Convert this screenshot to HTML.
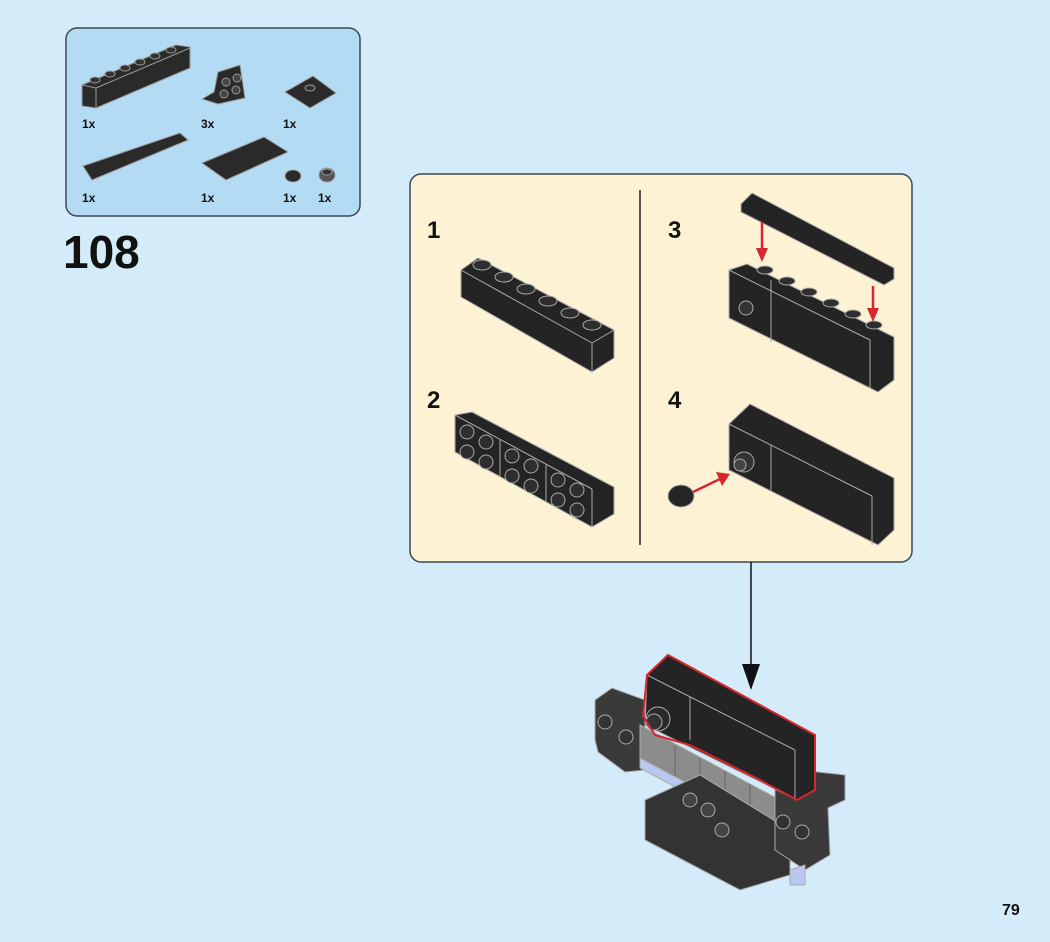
<!DOCTYPE html>
<html><head><meta charset="utf-8"><style>
html,body{margin:0;padding:0;background:#d4ebfa;}
svg{display:block;font-family:"Liberation Sans",sans-serif;}
</style></head><body>
<svg width="1050" height="942" viewBox="0 0 1050 942" xmlns="http://www.w3.org/2000/svg">
<rect width="1050" height="942" fill="#d4ebfa"/>
<rect x="66" y="28" width="294" height="188" rx="11" fill="#b4dbf4" stroke="#3b4852" stroke-width="1.5"/>
<g stroke="#9a9a9a" stroke-width="1" stroke-linejoin="round">
 <polygon points="82,85 176,45 190,47 190,68 96,108 82,106" fill="#2a2a2a"/>
 <line x1="82" y1="85" x2="96" y2="88"/><line x1="96" y1="88" x2="190" y2="48"/><line x1="96" y1="88" x2="96" y2="108"/>
 <g fill="#333"><ellipse cx="95" cy="80" rx="5" ry="3"/><ellipse cx="110" cy="74" rx="5" ry="3"/><ellipse cx="125" cy="68" rx="5" ry="3"/><ellipse cx="140" cy="62" rx="5" ry="3"/><ellipse cx="155" cy="56" rx="5" ry="3"/><ellipse cx="171" cy="50" rx="5" ry="3"/></g>
 <polygon points="214,92 218,72 240,65 245,98 218,104 202,99" fill="#2a2a2a"/>
 <g fill="#444"><circle cx="226" cy="82" r="4"/><circle cx="237" cy="78" r="4"/><circle cx="224" cy="94" r="4"/><circle cx="236" cy="90" r="4"/></g>
 <polygon points="285,92 313,76 336,93 310,108" fill="#2a2a2a"/>
 <ellipse cx="310" cy="88" rx="5" ry="3" fill="#333"/>
 <polygon points="83,166 180,133 188,140 92,180" fill="#2a2a2a"/>
 <polygon points="202,163 264,137 288,152 226,180" fill="#2a2a2a"/>
 <ellipse cx="293" cy="176" rx="8" ry="6" fill="#2a2a2a"/>
 <ellipse cx="327" cy="175" rx="8" ry="7" fill="#555"/><ellipse cx="327" cy="172" rx="5" ry="3" fill="#333"/>
</g>
<g font-weight="bold" font-size="12" fill="#111">
 <text x="82" y="128">1x</text><text x="201" y="128">3x</text><text x="283" y="128">1x</text>
 <text x="82" y="202">1x</text><text x="201" y="202">1x</text><text x="283" y="202">1x</text><text x="318" y="202">1x</text>
</g>
<text x="63" y="268" font-size="46" font-weight="bold" fill="#111">108</text>

<rect x="410" y="174" width="502" height="388" rx="11" fill="#fdf3d4" stroke="#3b4852" stroke-width="1.5"/>
<line x1="640" y1="190" x2="640" y2="545" stroke="#222" stroke-width="1.5"/>
<g font-weight="bold" font-size="24" fill="#111">
 <text x="427" y="238">1</text><text x="427" y="408">2</text><text x="668" y="238">3</text><text x="668" y="408">4</text>
</g>
<g stroke="#aaa" stroke-width="1" stroke-linejoin="round" fill="#242424">
 <polygon points="461,270 478,258 614,330 614,358 592,372 461,297"/>
 <line x1="461" y1="270" x2="592" y2="343"/><line x1="592" y1="343" x2="614" y2="330"/><line x1="592" y1="343" x2="592" y2="372"/>
 <g fill="#2e2e2e"><ellipse cx="482" cy="265" rx="9" ry="5"/><ellipse cx="504" cy="277" rx="9" ry="5"/><ellipse cx="526" cy="289" rx="9" ry="5"/><ellipse cx="548" cy="301" rx="9" ry="5"/><ellipse cx="570" cy="313" rx="9" ry="5"/><ellipse cx="592" cy="325" rx="9" ry="5"/></g>
 <polygon points="455,415 472,412 614,487 614,514 592,527 455,452"/>
 <line x1="455" y1="415" x2="592" y2="489"/><line x1="592" y1="489" x2="592" y2="527"/>
 <line x1="500" y1="440" x2="500" y2="477"/><line x1="546" y1="465" x2="546" y2="502"/>
 <g fill="#2e2e2e">
  <circle cx="467" cy="432" r="7"/><circle cx="486" cy="442" r="7"/><circle cx="467" cy="452" r="7"/><circle cx="486" cy="462" r="7"/>
  <circle cx="512" cy="456" r="7"/><circle cx="531" cy="466" r="7"/><circle cx="512" cy="476" r="7"/><circle cx="531" cy="486" r="7"/>
  <circle cx="558" cy="480" r="7"/><circle cx="577" cy="490" r="7"/><circle cx="558" cy="500" r="7"/><circle cx="577" cy="510" r="7"/>
 </g>
 <polygon points="741,204 752,193 894,268 894,279 884,285 741,212"/>
 <polygon points="729,270 747,264 894,337 894,380 878,392 729,318"/>
 <line x1="771" y1="280" x2="771" y2="342"/><line x1="729" y1="270" x2="870" y2="340"/><line x1="870" y1="340" x2="870" y2="388"/>
 <circle cx="746" cy="308" r="7" fill="#333"/>
 <g fill="#2e2e2e"><ellipse cx="765" cy="270" rx="8" ry="4"/><ellipse cx="787" cy="281" rx="8" ry="4"/><ellipse cx="809" cy="292" rx="8" ry="4"/><ellipse cx="831" cy="303" rx="8" ry="4"/><ellipse cx="853" cy="314" rx="8" ry="4"/><ellipse cx="874" cy="325" rx="8" ry="4"/></g>
 <polygon points="729,424 750,404 894,478 894,530 878,545 729,470"/>
 <line x1="729" y1="424" x2="872" y2="496"/><line x1="872" y1="496" x2="872" y2="545"/><line x1="771" y1="445" x2="771" y2="490"/>
 <circle cx="744" cy="462" r="10" fill="#333"/><circle cx="740" cy="465" r="6" fill="#444"/>
 <ellipse cx="681" cy="496" rx="13" ry="11" fill="#262626"/>
</g>
<g stroke="#d7262e" stroke-width="2.5" fill="#d7262e">
 <line x1="762" y1="222" x2="762" y2="250"/><polygon points="756,248 768,248 762,262" stroke="none"/>
 <line x1="873" y1="286" x2="873" y2="310"/><polygon points="867,308 879,308 873,322" stroke="none"/>
 <line x1="693" y1="492" x2="722" y2="478"/><polygon points="716,472 730,474 722,486" stroke="none"/>
</g>
<line x1="751" y1="562" x2="751" y2="672" stroke="#111" stroke-width="1.5"/>
<polygon points="742,664 760,664 751,690" fill="#111"/>

<g stroke="#aaa" stroke-width="1" stroke-linejoin="round">
 <polygon points="595,700 612,688 645,700 645,770 625,772 598,752 595,740" fill="#3a3a3a"/>
 <circle cx="605" cy="722" r="7" fill="#333"/><circle cx="626" cy="737" r="7" fill="#333"/>
 <polygon points="640,725 780,800 780,835 640,760" fill="#8c8c8c"/>
 <g stroke="#666"><line x1="675" y1="745" x2="675" y2="780"/><line x1="700" y1="758" x2="700" y2="793"/><line x1="725" y1="771" x2="725" y2="806"/><line x1="750" y1="784" x2="750" y2="819"/></g>
 <polygon points="640,758 780,833 780,843 640,768" fill="#b9c8ef"/>
 <polygon points="645,800 700,775 790,830 790,875 740,890 645,840" fill="#333"/>
 <circle cx="690" cy="800" r="7" fill="#444"/><circle cx="708" cy="810" r="7" fill="#444"/><circle cx="722" cy="830" r="7" fill="#444"/>
 <polygon points="775,790 800,770 845,775 845,800 828,808 830,855 805,870 775,850" fill="#3a3a3a"/>
 <circle cx="783" cy="822" r="7" fill="#333"/><circle cx="802" cy="832" r="7" fill="#333"/>
 <polygon points="790,870 805,865 805,885 790,885" fill="#b9c8ef"/>
 <polygon points="647,675 668,655 815,735 815,790 797,800 645,725" fill="#242424"/>
 <line x1="647" y1="675" x2="795" y2="750"/><line x1="795" y1="750" x2="795" y2="800"/><line x1="690" y1="697" x2="690" y2="740"/>
 <circle cx="658" cy="719" r="12" fill="#2a2a2a"/><circle cx="654" cy="722" r="8" fill="#333"/>
</g>
<path d="M647,675 L668,655 L815,735 L815,790 L797,800 L760,780 L690,745 L655,735 L643,716 Z" fill="none" stroke="#d7262e" stroke-width="2"/>
<text x="1002" y="915" font-size="16" font-weight="bold" fill="#111">79</text>
</svg>
</body></html>
